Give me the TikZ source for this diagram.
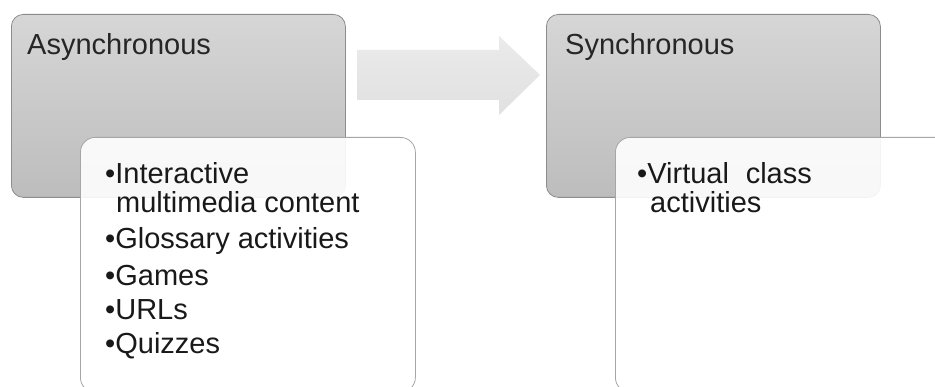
\documentclass[tikz,border=0pt]{standalone}
\usepackage{fontspec}
\setmainfont{Liberation Sans}
\begin{document}
\begin{tikzpicture}[x=1pt,y=-1pt,
  greybox/.style={draw=black!45, line width=0.8pt, rounded corners=12pt,
    top color=black!16, bottom color=black!26, minimum width=334pt, minimum height=183pt,
    inner sep=0pt, anchor=north west},
  listbox/.style={draw=black!35, line width=0.8pt, rounded corners=15pt,
    fill=white, fill opacity=0.9, minimum width=335pt, minimum height=255pt,
    inner sep=0pt, anchor=north west},
  ttl/.style={font=\fontsize{29}{29}\selectfont, text=black!85, inner sep=0pt, anchor=base west},
  itm/.style={font=\fontsize{29}{29}\selectfont, text=black!90, inner sep=0pt, anchor=base west},
  arrowshape/.style={top color=black!8, bottom color=black!12, draw=none}]
\useasboundingbox (0,0) rectangle (935,387);
\fill[white] (0,0) rectangle (935,387);
\clip (0,0) rectangle (935,387);
% left group
\node[greybox] (ga) at (11,14) {};
\node[ttl] (ta) at (27,55) {Asynchronous};
\node[listbox] (wa) at (80,137) {};
\node[itm] (a1) at (105,184) {\textbullet Interactive};
\node[itm] (a2) at (116,213) {multimedia content};
\node[itm] (a3) at (105,249) {\textbullet Glossary activities};
\node[itm] (a4) at (105,286) {\textbullet Games};
\node[itm] (a5) at (105,320) {\textbullet URLs};
\node[itm] (a6) at (105,354) {\textbullet Quizzes};
% right group
\node[greybox] (gs) at (546,14) {};
\node[ttl] (ts) at (565,55) {Synchronous};
\node[listbox] (ws) at (615,137) {};
\node[itm] (s1) at (637,184) {\textbullet Virtual\hspace{0.3em} class};
\node[itm] (s2) at (650,213) {activities};
% arrow between the groups
\coordinate (p1) at (357,50);
\coordinate (p2) at (499,50);
\coordinate (p3) at (499,36);
\coordinate (p4) at (540,75);
\coordinate (p5) at (499,115);
\coordinate (p6) at (499,100);
\coordinate (p7) at (357,100);
\path[arrowshape] (p1) -- (p2) -- (p3) -- (p4) -- (p5) -- (p6) -- (p7) -- cycle;
\end{tikzpicture}
\end{document}
